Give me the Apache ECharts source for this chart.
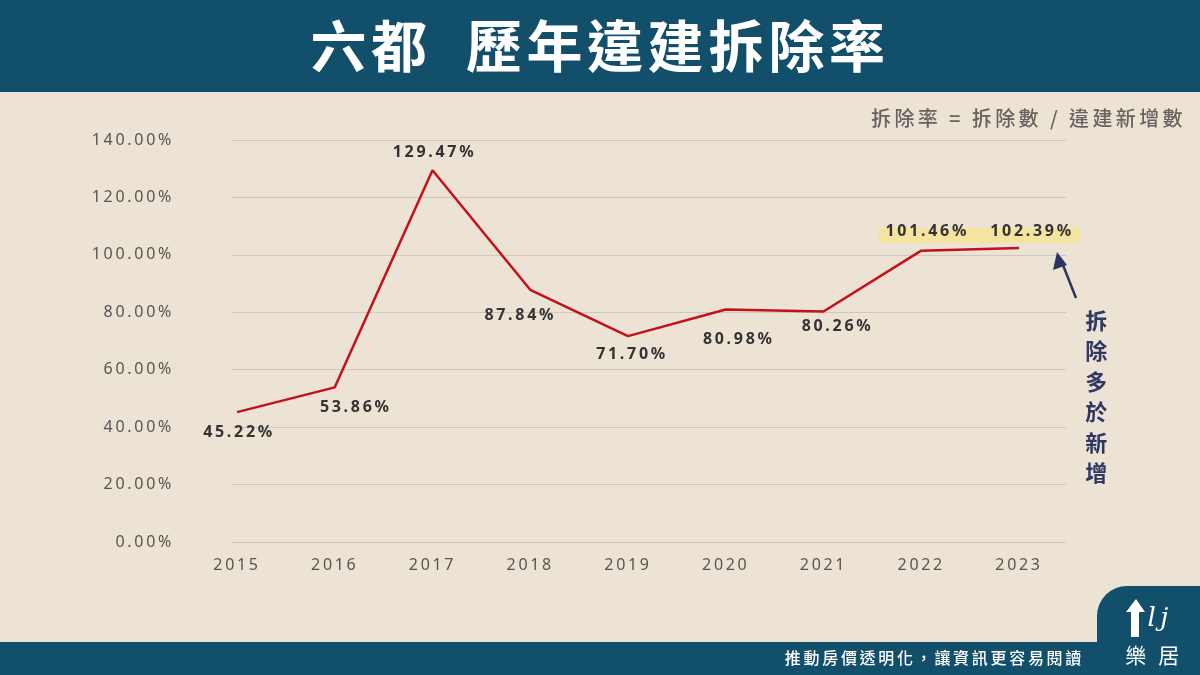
<!DOCTYPE html>
<html><head><meta charset="utf-8">
<script src="https://cdn.jsdelivr.net/npm/echarts@6/dist/echarts.min.js"></script>
<style>html,body{margin:0;padding:0;background:#ece3d4;}#c{width:1200px;height:675px;}</style>
</head><body><div id="c"></div>
<script>
// ---- data ----
const years = ['2015','2016','2017','2018','2019','2020','2021','2022','2023'];
const rates = [45.22, 53.86, 129.47, 87.84, 71.70, 80.98, 80.26, 101.46, 102.39];
const yTicks = [0, 20, 40, 60, 80, 100, 120, 140];
const title = '六都  歷年違建拆除率';
const formulaText = '拆除率 = 拆除數 / 違建新增數';
const noteText = '拆除多於新增';
const footerText = '推動房價透明化，讓資訊更容易閱讀';
const brandText = '樂 居';

// letter spacing like the reference typography
(function(){
  const P = CanvasRenderingContext2D.prototype;
  function setLS(ctx){
    try{
      const m = /(\d+(?:\.\d+)?)px/.exec(ctx.font || '');
      const s = m ? parseFloat(m[1]) : 12;
      ctx.letterSpacing = (s >= 40 ? s*0.08 : s*0.17).toFixed(1) + 'px';
    }catch(e){}
  }
  ['fillText','strokeText','measureText'].forEach(function(fn){
    const o = P[fn];
    P[fn] = function(){ setLS(this); return o.apply(this, arguments); };
  });
})();

const CJK = '"Noto Sans CJK TC", "Noto Sans", sans-serif';
const NUM = '"Noto Sans", "Noto Sans CJK TC", sans-serif';

// label placement style (per year): above/below and nudge
const labelStyle = {
  '2015': {pos: 'bottom', off: [2, -1]},
  '2016': {pos: 'bottom', off: [21, -1]},
  '2017': {pos: 'top', off: [2, 3]},
  '2018': {pos: 'bottom', off: [-10, 5]},
  '2019': {pos: 'bottom', off: [4, -3]},
  '2020': {pos: 'bottom', off: [13, 9]},
  '2021': {pos: 'bottom', off: [14, -6]},
  '2022': {pos: 'top', off: [6, 2]},
  '2023': {pos: 'top', off: [13, 4]}
};

const chart = echarts.init(document.getElementById('c'));
const option = {
  backgroundColor: '#ece3d4',
  animation: false,
  grid: [
    {left: 232, right: 134, top: 140, bottom: 133},
    {left: 237, right: 181, top: 140, bottom: 133}
  ],
  xAxis: [
    {gridIndex: 0, type: 'value', min: 0, max: 1, show: false},
    {gridIndex: 1, type: 'category', data: years, boundaryGap: false,
     axisLine: {show: false}, axisTick: {show: false},
     axisLabel: {color: '#555', fontSize: 16, fontFamily: NUM, margin: 14}}
  ],
  yAxis: [
    {gridIndex: 0, type: 'value', min: yTicks[0], max: yTicks[yTicks.length-1], interval: 20,
     axisLine: {show: false}, axisTick: {show: false},
     axisLabel: {color: '#555', fontSize: 16, fontFamily: NUM, margin: 58,
       formatter: v => v.toFixed(2) + '%'},
     splitLine: {lineStyle: {color: '#cfc8bf', width: 1}}},
    {gridIndex: 1, type: 'value', min: yTicks[0], max: yTicks[yTicks.length-1], show: false,
     splitLine: {show: false}}
  ],
  series: [{
    type: 'line', xAxisIndex: 1, yAxisIndex: 1, z: 5,
    data: rates.map((v, i) => ({
      value: v,
      label: {position: labelStyle[years[i]].pos}
    })),
    showSymbol: true, symbol: 'circle', symbolSize: 1,
    itemStyle: {color: 'rgba(0,0,0,0)'},
    lineStyle: {color: '#c5101a', width: 2.5},
    label: {show: true, distance: 11, color: '#333', fontSize: 16, fontWeight: 'bold',
      fontFamily: NUM, formatter: p => p.value.toFixed(2) + '%'},
    labelLayout: function (params) {
      const o = labelStyle[years[params.dataIndex]].off;
      return {dx: o[0], dy: o[1], hideOverlap: false};
    }
  }]
};
chart.setOption(option);

const p22 = chart.convertToPixel({xAxisIndex: 1, yAxisIndex: 1}, [years[7], rates[7]]);
const p23 = chart.convertToPixel({xAxisIndex: 1, yAxisIndex: 1}, [years[8], rates[8]]);

chart.setOption({
  graphic: [
    {type: 'rect', shape: {x: 0, y: 0, width: 1200, height: 92}, style: {fill: '#124f6b'}, z: 1},
    {type: 'text', x: 600, y: 46, z: 2, style: {text: title, fill: '#fff', font: 'bold 56px ' + CJK,
      align: 'center', verticalAlign: 'middle', shadowColor: 'rgba(0,0,0,0.5)', shadowBlur: 4, shadowOffsetX: 2, shadowOffsetY: 2}},
    {type: 'text', x: 1186, y: 118, z: 2, style: {text: formulaText, fill: '#666360', font: '500 20px ' + CJK,
      align: 'right', verticalAlign: 'middle'}},
    // highlight band behind top labels
    {type: 'rect', z: 0, shape: {x: p22[0] - 43, y: p23[1] - 20, width: (p23[0] - p22[0]) + 104, height: 15},
      style: {fill: '#f5e3a0'}},
    // arrow
    {type: 'line', z: 3, shape: {x1: p23[0] + 57, y1: p23[1] + 50, x2: p23[0] + 42, y2: p23[1] + 12},
      style: {stroke: '#2c3561', lineWidth: 2.5}},
    {type: 'polygon', z: 3, shape: {points: [[p23[0] + 38, p23[1] + 4], [p23[0] + 34, p23[1] + 22], [p23[0] + 48, p23[1] + 17]]},
      style: {fill: '#2c3561'}},
    {type: 'text', x: 1098, y: 305, z: 3, style: {text: noteText.split('').join('\n'), fill: '#2e3863',
      font: 'bold 22px ' + CJK, align: 'center', verticalAlign: 'top', lineHeight: 30.5}},
    // footer
    {type: 'rect', shape: {x: 0, y: 642, width: 1200, height: 33}, style: {fill: '#124f6b'}, z: 1},
    {type: 'rect', z: 1, shape: {x: 1097, y: 586, width: 120, height: 70, r: [30, 0, 0, 0]},
      style: {fill: '#124f6b'}},
    {type: 'text', x: 1084, y: 658, z: 2, style: {text: footerText, fill: '#fff', font: '500 16px ' + CJK,
      align: 'right', verticalAlign: 'middle'}},
    {type: 'text', x: 1154, y: 655, z: 2, style: {text: brandText, fill: '#fff', font: '21px ' + CJK,
      align: 'center', verticalAlign: 'middle'}},
    {type: 'polygon', z: 2, shape: {points: [[1136,599],[1126,612],[1131,612],[1131,637],[1139,637],[1139,612],[1145,612]]},
      style: {fill: '#fff'}},
    {type: 'text', x: 1160, y: 619, z: 2, style: {text: 'lj', fill: '#fff', font: 'italic 26px "DejaVu Serif", serif',
      align: 'center', verticalAlign: 'middle'}}
  ]
});
</script></body></html>
